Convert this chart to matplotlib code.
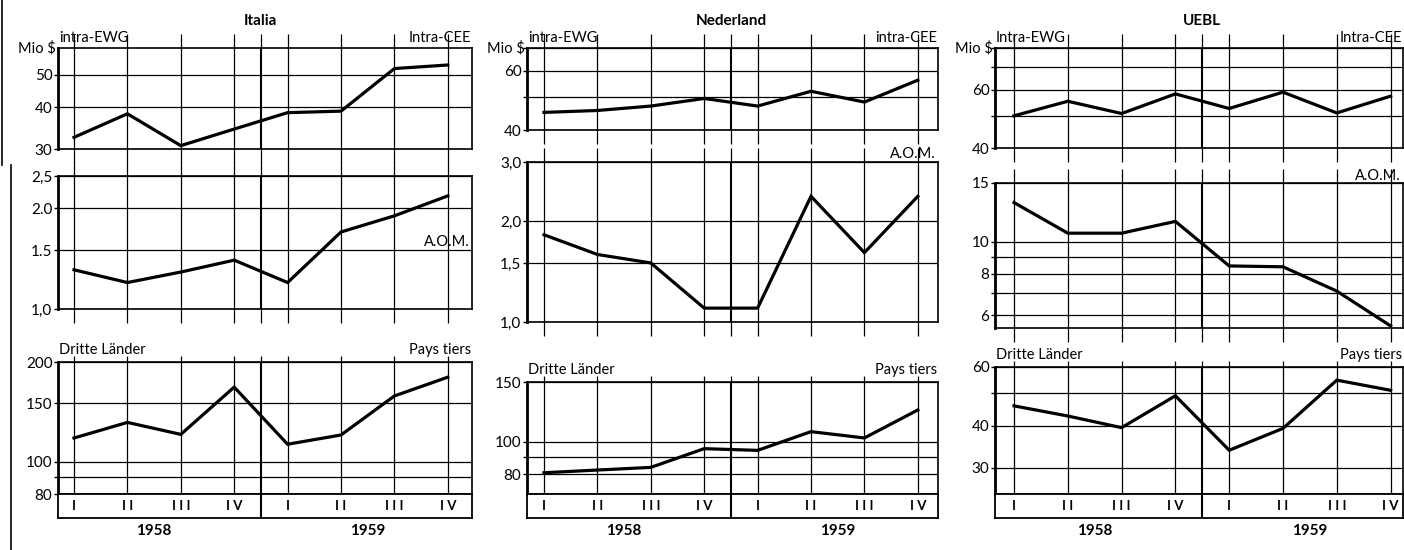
import matplotlib
matplotlib.use('Agg')
import matplotlib.pyplot as plt
from matplotlib.lines import Line2D
import numpy as np

plt.rcParams['font.family'] = ['Lato', 'DejaVu Sans']

# --- data (Mio $, quarterly 1958-1959) ---
quarters = ['I', 'II', 'III', 'IV', 'I', 'II', 'III', 'IV']
years = ['1958', '1959']

italia_intra = [32.5, 38.2, 30.7, 34.4, 38.5, 38.9, 52.1, 53.4]
italia_aom = [1.31, 1.20, 1.29, 1.40, 1.20, 1.70, 1.90, 2.18]
italia_third = [118, 131.5, 121, 168, 113, 120.5, 158, 180]

ned_intra = [45.1, 45.7, 47.1, 49.6, 47.1, 52.1, 48.4, 56.2]
ned_aom = [1.82, 1.59, 1.50, 1.10, 1.10, 2.37, 1.61, 2.37]
ned_third = [80.9, 82.4, 83.9, 95.3, 94.2, 107, 102.5, 124]

uebl_intra = [50.0, 55.3, 50.8, 58.2, 52.6, 58.9, 51.0, 57.3]
uebl_aom = [13.1, 10.6, 10.6, 11.5, 8.45, 8.4, 7.1, 5.58]
uebl_third = [45.9, 42.8, 39.5, 49.2, 33.8, 39.3, 54.8, 51.1]

# y scales: (limits, grid values, tick labels)
italia_scales = [((30, 60), [30, 40, 50], ['30', '40', '50']),
                 ((1.0, 2.5), [1.0, 1.5, 2.0, 2.5], ['1,0', '1.5', '2.0', '2,5']),
                 ((80, 200), [80, 90, 100, 150, 200], ['80', '', '100', '150', '200'])]
ned_scales = [((40, 70), [40, 50, 60, 70], ['40', '', '60', '']),
              ((1.0, 3.0), [1.0, 1.5, 2.0, 3.0], ['1,0', '1,5', '2,0', '3,0']),
              ((70, 150), [80, 90, 100, 150], ['80', '', '100', '150'])]
uebl_scales = [((40, 80), [40, 50, 60, 70, 80], ['40', '', '60', '', '']),
               ((5.5, 15), [6, 7, 8, 9, 10, 15], ['6', '', '8', '', '10', '15']),
               ((25, 60), [30, 40, 50, 60], ['30', '40', '', '60'])]

columns = [
    {'title': 'Italia', 'series': [italia_intra, italia_aom, italia_third], 'scales': italia_scales,
     'ewg': 'intra-EWG', 'cee': 'Intra-CEE',
     'left': 58, 'right': 472, 'q0': 74, 'step': 53.4,
     'rows': [(48, 149), (176, 309), (362, 494)], 'aom_y': 242},
    {'title': 'Nederland', 'series': [ned_intra, ned_aom, ned_third], 'scales': ned_scales,
     'ewg': 'intra-EWG', 'cee': 'intra-CEE',
     'left': 527, 'right': 938, 'q0': 544, 'step': 53.4,
     'rows': [(48, 130), (162, 322), (382, 494)], 'aom_y': 154},
    {'title': 'UEBL', 'series': [uebl_intra, uebl_aom, uebl_third], 'scales': uebl_scales,
     'ewg': 'Intra-EWG', 'cee': 'Intra-CEE',
     'left': 995, 'right': 1403, 'q0': 1014, 'step': 53.8,
     'rows': [(48, 148), (183, 328), (367, 494)], 'aom_y': 176},
]

W, H = 1404, 550
fig = plt.figure(figsize=(W / 100, H / 100), dpi=100)
fig.patch.set_facecolor('white')


def px_axes(left, right, top, bottom):
    return fig.add_axes([left / W, 1 - bottom / H, (right - left) / W, (bottom - top) / H])


def ftext(x, y, s, **kw):
    fig.text(x / W, 1 - y / H, s, color='black', **kw)


xq = np.arange(len(quarters))
for col in columns:
    xl = ((col['left'] - col['q0']) / col['step'], (col['right'] - col['q0']) / col['step'])
    for r, (series, (ylim, grid, labels)) in enumerate(zip(col['series'], col['scales'])):
        top, bottom = col['rows'][r]
        ax = px_axes(col['left'], col['right'], top, bottom)
        ax.set_yscale('log')
        ax.set_xlim(*xl)
        ax.set_ylim(*ylim)
        for g in grid:
            ax.axhline(g, color='black', lw=0.9, zorder=1)
        for q in xq:
            ax.axvline(q, color='black', lw=0.9, zorder=1)
        ax.axvline(3.5, color='black', lw=1.5, zorder=1)
        ax.plot(xq, series, color='black', lw=2.3, solid_joinstyle='miter', zorder=3)
        ax.set_yticks(grid)
        ax.set_yticklabels(labels)
        ax.yaxis.set_minor_locator(matplotlib.ticker.NullLocator())
        ax.tick_params(axis='y', direction='out', length=3, width=1, labelsize=11, pad=1)
        ax.set_xticks(list(xq) + [3.5])
        tl = 4 if r == 2 else 10
        ax.tick_params(axis='x', direction='out', length=tl, width=0.9, top=True, bottom=(r != 2),
                       labelbottom=False)
        for s in ax.spines.values():
            s.set_linewidth(1.2)
        ax.spines['left'].set_linewidth(2)

    # quarter label box
    bx = px_axes(col['left'], col['right'], 494, 518)
    bx.set_xlim(*xl)
    bx.set_ylim(0, 1)
    bx.set_xticks([])
    bx.set_yticks([])
    bx.axvline(3.5, color='black', lw=1.5)
    for s in bx.spines.values():
        s.set_linewidth(1.3)
    for q, lab in zip(xq, quarters):
        bx.text(q, 0.5, ' '.join(lab), ha='center', va='center', fontsize=9.5, fontweight='bold')
    for i, y in enumerate(years):
        bx.text(1.5 + 4 * i, -0.55, y, ha='center', va='center', fontsize=11, fontweight='bold')

    sep_px = col['q0'] + 3.5 * col['step']
    ftext(sep_px, 21, col['title'], ha='center', va='center', fontsize=11, fontweight='bold')
    ftext(col['left'] + 1, 38, col['ewg'], ha='left', va='center', fontsize=10.5)
    ftext(col['right'] - 1, 38, col['cee'], ha='right', va='center', fontsize=10.5)
    ftext(col['left'] - 2, 48, 'Mio $', ha='right', va='center', fontsize=10.5)
    ftext(col['right'] - 2, col['aom_y'], 'A.O.M.', ha='right', va='center', fontsize=10.5)
    third_top = col['rows'][2][0]
    ftext(col['left'] + 1, third_top - 12, 'Dritte Länder', ha='left', va='center', fontsize=10.5)
    ftext(col['right'] - 1, third_top - 12, 'Pays tiers', ha='right', va='center', fontsize=10.5)

# page border from the scan
fig.add_artist(Line2D([2 / W, 2 / W], [1, 1 - 165 / H], color='black', lw=1.2))
fig.add_artist(Line2D([11 / W, 11 / W], [1 - 165 / H, 0], color='black', lw=1.2))

fig.savefig('out.png', dpi=100, facecolor='white')
